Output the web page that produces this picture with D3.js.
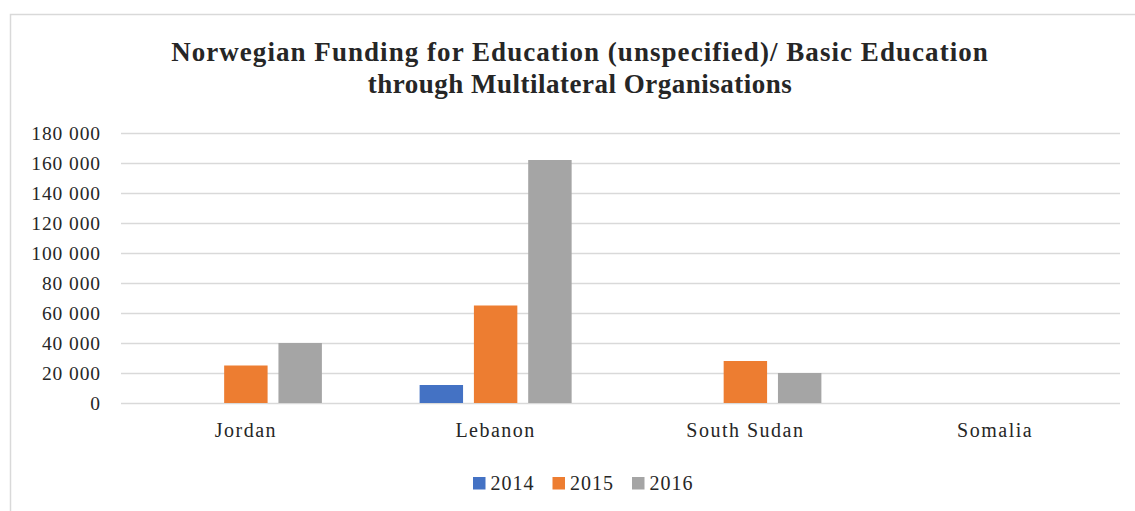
<!DOCTYPE html>
<html>
<head>
<meta charset="utf-8">
<script src="https://cdn.jsdelivr.net/npm/d3@7"></script>
<style>
  html, body { margin: 0; padding: 0; background: #fff; }
  svg { display: block; }
  text { font-family: "Liberation Serif", "DejaVu Serif", serif; fill: #262626; }
</style>
</head>
<body>
<svg id="chart" width="1135" height="511"></svg>
<script>
const titleLines = [
  "Norwegian Funding for Education (unspecified)/ Basic Education",
  "through Multilateral Organisations"
];
const categories = ["Jordan", "Lebanon", "South Sudan", "Somalia"];
const years = ["2014", "2015", "2016"];
const values2014 = [0, 12000, 0, 0];
const values2015 = [25000, 65000, 28000, 0];
const values2016 = [40000, 162000, 20000, 0];
const yTicks = [0, 20000, 40000, 60000, 80000, 100000, 120000, 140000, 160000, 180000];
const colors = ["#4472C4", "#ED7D31", "#A5A5A5"];

const seriesValues = [values2014, values2015, values2016];
const rows = categories.map((c, i) => ({
  category: c,
  values: years.map((y, k) => ({ year: y, value: seriesValues[k][i], color: colors[k] }))
}));

const svg = d3.select("#chart");

// chart frame
svg.append("rect")
  .attr("x", 10.5).attr("y", 14.5)
  .attr("width", 1140).attr("height", 520)
  .attr("fill", "#fff")
  .attr("stroke", "#D9D9D9").attr("stroke-width", 1.5);

const plot = { left: 121, right: 1120, top: 133, bottom: 403 };

const x = d3.scaleBand().domain(categories).range([plot.left, plot.right]).paddingInner(0).paddingOuter(0);
const xInner = d3.scaleBand().domain(years).range([0, x.bandwidth()]).paddingInner(0.2).paddingOuter(0.9);
const y = d3.scaleLinear().domain([0, 180000]).range([plot.bottom, plot.top]);

// title, two centred lines
svg.append("g").selectAll("text").data(titleLines).join("text")
  .attr("x", 580).attr("y", (d, i) => 61 + i * 32)
  .attr("text-anchor", "middle")
  .style("font-weight", "bold").style("font-size", "27px")
  .style("letter-spacing", (d, i) => i === 0 ? "1.05px" : "0.5px")
  .text(d => d);

// gridlines and y tick labels
const fmt = v => d3.format(",")(v).replace(/,/g, " ");
const yAxis = d3.axisLeft(y).tickValues(yTicks).tickSize(-(plot.right - plot.left)).tickFormat(fmt).tickPadding(20);
const gy = svg.append("g").attr("transform", `translate(${plot.left},0)`).call(yAxis);
gy.select(".domain").remove();
gy.selectAll(".tick line").attr("stroke", "#D9D9D9").attr("stroke-width", 1.5);
gy.selectAll(".tick text").style("font-size", "19.5px").style("letter-spacing", "0.9px").attr("fill", "#262626");

// bars
const groups = svg.append("g").selectAll("g").data(rows).join("g")
  .attr("transform", d => `translate(${x(d.category)},0)`);
groups.selectAll("rect").data(d => d.values.filter(v => v.value > 0)).join("rect")
  .attr("x", d => xInner(d.year))
  .attr("width", xInner.bandwidth())
  .attr("y", d => y(d.value))
  .attr("height", d => y(0) - y(d.value))
  .attr("fill", d => d.color);

// category labels
const xAxis = d3.axisBottom(x).tickSize(0).tickPadding(20);
const gx = svg.append("g").attr("transform", `translate(0,${plot.bottom})`).call(xAxis);
gx.select(".domain").remove();
gx.selectAll(".tick text").style("font-size", "20px").style("letter-spacing", "1.5px").attr("fill", "#262626");

// legend
const legend = svg.append("g").attr("transform", "translate(473,477)");
const item = legend.selectAll("g").data(years).join("g")
  .attr("transform", (d, i) => `translate(${i * 79.5},0)`);
item.append("rect").attr("width", 12.5).attr("height", 12.5).attr("fill", (d, i) => colors[i]);
item.append("text").attr("x", 17.5).attr("y", 12.5).style("font-size", "20px").style("letter-spacing", "1px").text(d => d);
</script>
</body>
</html>
